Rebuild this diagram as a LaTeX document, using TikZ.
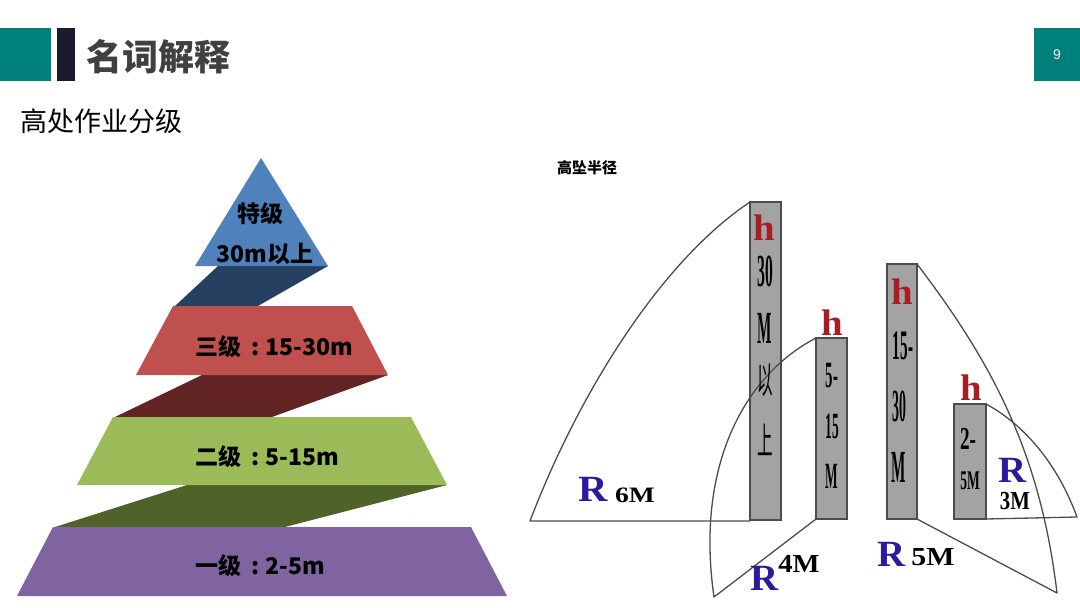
\documentclass[tikz,border=0pt]{standalone}
\usepackage{fontspec}
\usepackage{xcolor}
\setmainfont{Liberation Serif}
\setsansfont{Liberation Sans}
\newfontfamily\cjk{Noto Sans CJK SC}
\definecolor{slideteal}{HTML}{00807C}
\definecolor{slidedark}{HTML}{1A1B2B}
\definecolor{slidetext}{HTML}{404040}
\definecolor{tierblue}{HTML}{4F81BD}
\definecolor{tierblueshade}{HTML}{254061}
\definecolor{tierred}{HTML}{C0504D}
\definecolor{tierredshade}{HTML}{632523}
\definecolor{tiergreen}{HTML}{9BBB59}
\definecolor{tiergreenshade}{HTML}{4F6228}
\definecolor{tierpurple}{HTML}{8064A2}
\definecolor{barfill}{HTML}{A3A3A3}
\definecolor{radiusblue}{HTML}{2A1A9E}
\definecolor{heightred}{HTML}{A81C24}
\newcommand{\squeezed}[2]{\scalebox{#1}[1]{#2}}
\newcommand{\tiercolon}{\hspace{10pt}:\hspace{6pt}}

\begin{document}
\begin{tikzpicture}[
  x=1pt,y=-1pt,
  tierlabel/.style={font=\cjk\bfseries\fontsize{23}{27}\selectfont,text=black,
    inner sep=0pt},
  barshape/.style={draw=black!70,fill=barfill,line width=1.2pt},
  fallzone/.style={draw=black!70,line width=1.3pt,line join=round},
  heightmark/.style={font=\rmfamily\bfseries\fontsize{37}{37}\selectfont,
    text=heightred,inner sep=0pt},
  barbig/.style={font=\rmfamily\bfseries\fontsize{46}{46}\selectfont,text=black,
    inner sep=0pt},
  barsmall/.style={font=\rmfamily\bfseries\fontsize{37}{37}\selectfont,text=black,
    inner sep=0pt},
  barhan/.style={font=\cjk\fontsize{37}{37}\selectfont,text=black,inner sep=0pt},
  radiusmark/.style={font=\rmfamily\bfseries\fontsize{37}{37}\selectfont,
    text=radiusblue,inner sep=0pt},
  radiusvalue/.style={font=\rmfamily\bfseries\fontsize{26}{26}\selectfont,
    text=black,inner sep=0pt}
]
  \useasboundingbox (0,0) rectangle (1080,608);

  \fill[slideteal] (0,28) rectangle (51,81);
  \fill[slidedark] (57,28) rectangle (75,81);
  \fill[slideteal] (1034,28) rectangle (1080,81);
  \node[font=\sffamily\fontsize{14}{16}\selectfont,text=white] (pageno) at (1057,55) {9};
  \node[anchor=west,font=\cjk\bfseries\fontsize{36}{40}\selectfont,text=slidetext,
    inner sep=0pt] (slidetitle) at (86,57) {名词解释};
  \node[anchor=west,font=\cjk\fontsize{27}{30}\selectfont,text=black,inner sep=0pt]
    (subtitle) at (20,121) {高处作业分级};

  \fill[tierblueshade] (218,266) -- (328,266) -- (258,306) -- (175,306) -- cycle;
  \fill[tierredshade] (202,375) -- (388,375) -- (272,417) -- (115,417) -- cycle;
  \fill[tiergreenshade] (187,485) -- (447,485) -- (285,527) -- (55,527) -- cycle;
  \fill[tierblue] (261,158) -- (328,266) -- (195,266) -- cycle;
  \fill[tierred] (173,306) -- (352,306) -- (388,375) -- (136,375) -- cycle;
  \fill[tiergreen] (113,417) -- (411,417) -- (447,485) -- (77,485) -- cycle;
  \fill[tierpurple] (53,527) -- (471,527) -- (507,596) -- (17,596) -- cycle;

  \node[tierlabel] (tiertop) at (260,214) {特级};
  \node[tierlabel] (tiertoprange) at (265,254) {30m以上};
  \node[tierlabel,anchor=west] (tierthree) at (195,347) {三级\tiercolon 15-30m};
  \node[tierlabel,anchor=west] (tiertwo) at (195,457) {二级\tiercolon 5-15m};
  \node[tierlabel,anchor=west] (tierone) at (195,566) {一级\tiercolon 2-5m};

  \node[anchor=west,font=\cjk\bfseries\fontsize{15}{17}\selectfont,text=black,
    inner sep=0pt] (radiustitle) at (557,168) {高坠半径};

  \draw[barshape] (750,202) rectangle (781,520);
  \draw[barshape] (816,338) rectangle (847,519);
  \draw[barshape] (887,264) rectangle (917,519);
  \draw[barshape] (954,404) rectangle (986,519);

  \draw[fallzone] (750,202) .. controls (660,262) and (578,395) .. (530,521)
    -- (750,521);
  \draw[fallzone] (816,338) .. controls (745,375) and (695,465) .. (714,597)
    -- (816,519);
  \draw[fallzone] (917,264) .. controls (990,360) and (1040,450) .. (1057,593)
    -- (917,519);
  \draw[fallzone] (986,404) .. controls (1025,425) and (1058,465) .. (1077,517)
    -- (986,519);

  \node[heightmark] (hsix) at (764,228) {\squeezed{1.05}{h}};
  \node[heightmark] (hfour) at (832,323) {\squeezed{1.05}{h}};
  \node[heightmark] (hfive) at (902,292) {\squeezed{1.05}{h}};
  \node[heightmark] (hthree) at (971,388) {\squeezed{1.05}{h}};

  \node[barbig] (sixa) at (765,271) {\squeezed{0.34}{30}};
  \node[barbig] (sixb) at (765,328) {\squeezed{0.33}{M}};
  \node[barhan] (sixc) at (765,380) {\squeezed{0.42}{以}};
  \node[barhan] (sixd) at (765,440) {\squeezed{0.42}{上}};
  \node[barsmall] (foura) at (832,376) {\squeezed{0.4}{5-}};
  \node[barsmall] (fourb) at (832,426) {\squeezed{0.36}{15}};
  \node[barsmall] (fourc) at (832,476) {\squeezed{0.36}{M}};
  \node[barsmall,font=\rmfamily\bfseries\fontsize{42}{42}\selectfont] (fivea) at (903,346) {\squeezed{0.36}{15-}};
  \node[barbig] (fiveb) at (899,406) {\squeezed{0.3}{30}};
  \node[barbig] (fivec) at (899,467) {\squeezed{0.33}{M}};
  \node[barsmall,font=\rmfamily\bfseries\fontsize{32}{32}\selectfont] (threea) at (968,439) {\squeezed{0.6}{2-}};
  \node[barsmall,font=\rmfamily\bfseries\fontsize{27}{27}\selectfont] (threeb) at (970,481) {\squeezed{0.5}{5M}};

  \node[radiusmark] (rsix) at (593,489) {\squeezed{1.1}{R}};
  \node[radiusvalue,font=\rmfamily\bfseries\fontsize{22}{22}\selectfont] (vsix) at (635,495) {\squeezed{1.25}{6M}};
  \node[radiusmark] (rfour) at (765,578) {\squeezed{1.05}{R}};
  \node[radiusvalue] (vfour) at (799,564) {\squeezed{1.1}{4M}};
  \node[radiusmark] (rfive) at (892,554) {\squeezed{1.05}{R}};
  \node[radiusvalue] (vfive) at (933,557) {\squeezed{1.15}{5M}};
  \node[radiusmark] (rthree) at (1013,470) {\squeezed{1.05}{R}};
  \node[radiusvalue,font=\rmfamily\bfseries\fontsize{26}{26}\selectfont] (vthree) at (1015,501) {\squeezed{0.8}{3M}};
\end{tikzpicture}
\end{document}
